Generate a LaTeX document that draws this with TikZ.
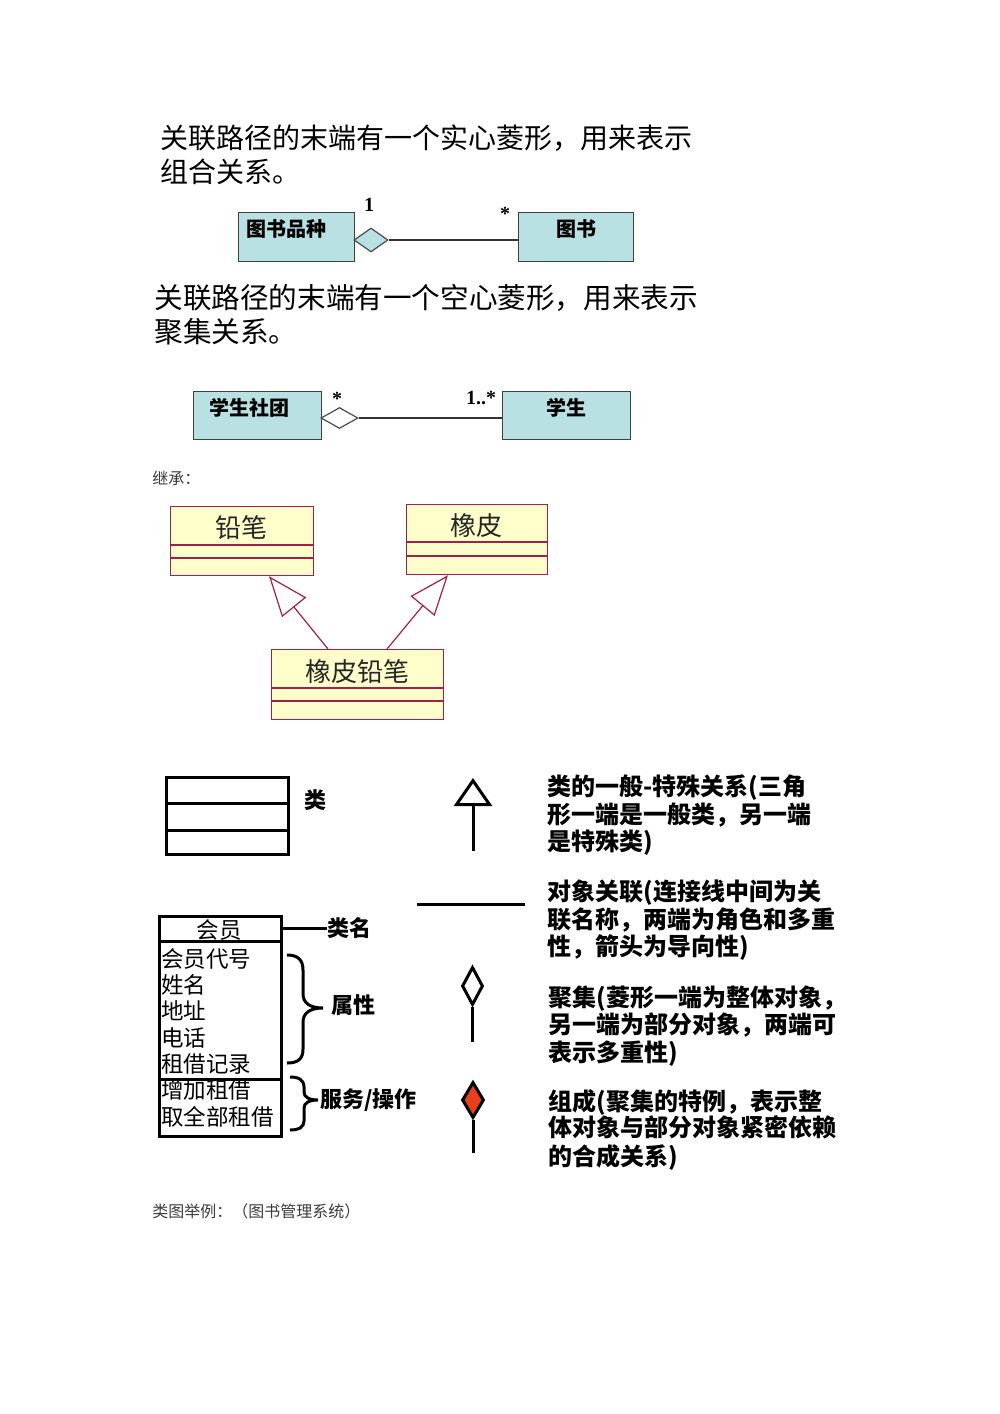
\documentclass[tikz,border=0pt]{standalone}
\usepackage{fontspec}
\setmainfont{Liberation Serif}
\newfontfamily\cjk{Noto Sans CJK SC}
\usetikzlibrary{shapes.geometric,arrows.meta,calc}
\definecolor{cyanfill}{RGB}{185,224,226}
\definecolor{umlred}{RGB}{165,30,75}
\definecolor{umlfill}{RGB}{255,255,204}
\definecolor{compred}{RGB}{232,64,26}
\definecolor{greytxt}{RGB}{60,60,60}
\begin{document}
\begin{tikzpicture}[x=0.5pt,y=-0.5pt,
  txt/.style={inner sep=0pt,anchor=west,text height=0.95em,text depth=0.1em},
  head/.style={txt,font=\cjk\fontsize{14}{17}\selectfont},
  small/.style={txt,font=\cjk\fontsize{8}{10}\selectfont,text=greytxt},
  cbox/.style={draw=black!75,fill=cyanfill,line width=0.6pt,inner sep=0pt,anchor=north west,minimum height=24.5pt},
  ctext/.style={inner sep=0pt,font=\cjk\bfseries\fontsize{10}{12}\selectfont},
  mult/.style={inner sep=0pt,font=\bfseries\fontsize{10}{12}\selectfont},
  assoc/.style={draw=black!80,line width=0.6pt},
  ubox/.style={draw=umlred,fill=umlfill,line width=0.6pt,inner sep=0pt,anchor=north west},
  uline/.style={draw=umlred,line width=0.6pt},
  utext/.style={inner sep=0pt,font=\cjk\fontsize{13}{15}\selectfont,text=black!85},
  inh/.style={draw=umlred,line width=0.6pt,-{Triangle[open,length=20pt,width=15.5pt,fill=white]}},
  leg/.style={line width=1.5pt},
  legbox/.style={draw,line width=1.5pt,inner sep=0pt,anchor=north west},
  legtxt/.style={txt,font=\cjk\bfseries\fontsize{12}{14}\selectfont},
  lab/.style={txt,font=\cjk\bfseries\fontsize{11}{13}\selectfont},
  mtxt/.style={txt,font=\cjk\fontsize{11.25}{13}\selectfont},
]
\useasboundingbox[fill=white] (0,0) rectangle (1000,1414);

% --- composition heading
\node[head] (h1a) at (160,140) {关联路径的末端有一个实心菱形，用来表示};
\node[head] (h1b) at (160,174) {组合关系。};

\node[cbox,minimum width=58pt] (tspz) at (238,212) {};
\node[ctext] (tspzt) at (286,229) {图书品种};
\node[cbox,minimum width=57.5pt] (tushu) at (518,212) {};
\node[ctext] (tushut) at (576,229) {图书};
\node[diamond,draw=black!70,fill=cyanfill,line width=0.6pt,inner sep=0pt,minimum width=17pt,minimum height=12pt] (d1) at (371,240) {};
\draw[assoc] (d1.east) -- (tushu.west |- d1.east);
\node[mult] (m1) at (369,205) {1};
\node[mult] (m2) at (505,214) {*};

% --- aggregation heading
\node[head,font=\cjk\fontsize{14.3}{17}\selectfont] (h2a) at (154,300) {关联路径的末端有一个空心菱形，用来表示};
\node[head,font=\cjk\fontsize{14.3}{17}\selectfont] (h2b) at (154,334) {聚集关系。};

\node[cbox,minimum width=64pt,minimum height=24pt] (xsst) at (193,391) {};
\node[ctext] (xsstt) at (249,408) {学生社团};
\node[cbox,minimum width=64pt,minimum height=24pt] (xs) at (502,391) {};
\node[ctext] (xst) at (566,408) {学生};
\node[diamond,draw=black!70,fill=white,line width=0.6pt,inner sep=0pt,minimum width=18.5pt,minimum height=10.5pt] (d2) at (339.5,418) {};
\draw[assoc] (d2.east) -- (xs.west |- d2.east);
\node[mult] (m3) at (337,399) {*};
\node[mult] (m4) at (481,398) {1..*};

% --- inheritance
\node[small] (jc) at (152,476) {继承：};

\node[ubox,minimum width=71.5pt,minimum height=34.5pt] (pencil) at (170,506) {};
\draw[uline] (170,545) -- (313,545) (170,558) -- (313,558);
\node[utext] (pencilt) at (241,528) {铅笔};
\node[ubox,minimum width=70.5pt,minimum height=35pt] (eraser) at (406,504) {};
\draw[uline] (406,542) -- (547,542) (406,556) -- (547,556);
\node[utext] (erasert) at (476,526) {橡皮};
\node[ubox,minimum width=86pt,minimum height=35pt] (combo) at (271,649) {};
\draw[uline] (271,688) -- (443,688) (271,701) -- (443,701);
\node[utext] (combot) at (357,672) {橡皮铅笔};

\draw[inh] ($(combo.north west)+(57,0)$) -- ($(pencil.south west)+(99,0)$);
\draw[inh] ($(combo.north west)+(116,0)$) -- ($(eraser.south west)+(42,0)$);

% --- legend: class
\node[legbox,minimum width=61pt,minimum height=38.5pt] (legcls) at (165,776) {};
\draw[leg] (165,803) -- (287,803) (165,830) -- (287,830);
\node[lab] (lei) at (304,800) {类};

% generalization
\coordinate (g0) at (473,851);
\coordinate (g1) at (473,778);
\draw[leg,-{Triangle[open,length=14pt,width=19pt]}] (g0) -- (g1);
\node[legtxt] (t1) at (547,787) {类的一般-特殊关系(三角};
\node[legtxt] (t2) at (547,815) {形一端是一般类，另一端};
\node[legtxt] (t3) at (547,842) {是特殊类)};

% association
\coordinate (a0) at (417,904);
\coordinate (a1) at (525,904);
\draw[leg] (a0) -- (a1);
\node[legtxt] (t4) at (547,892) {对象关联(连接线中间为关};
\node[legtxt] (t5) at (547,920) {联名称，两端为角色和多重};
\node[legtxt] (t6) at (547,947) {性，箭头为导向性)};

% aggregation
\node[diamond,draw,fill=white,line width=1.5pt,inner sep=0pt,minimum width=10.5pt,minimum height=19pt] (agg) at (472.5,986) {};
\coordinate (agge) at (472.5,1042);
\draw[leg] (agg.south) -- (agge);
\node[legtxt] (t7) at (548,998) {聚集(菱形一端为整体对象，};
\node[legtxt] (t8) at (548,1025) {另一端为部分对象，两端可};
\node[legtxt] (t9) at (548,1053) {表示多重性)};

% composition
\node[diamond,draw,fill=compred,line width=1.5pt,inner sep=0pt,minimum width=11pt,minimum height=18pt] (comp) at (473,1100) {};
\coordinate (compe) at (473,1153);
\draw[leg] (comp.south) -- (compe);
\node[legtxt] (t10) at (548,1102) {组成(聚集的特例，表示整};
\node[legtxt] (t11) at (548,1128) {体对象与部分对象紧密依赖};
\node[legtxt] (t12) at (548,1157) {的合成关系)};

% member class
\node[legbox,minimum width=61pt,minimum height=110pt] (member) at (158,915) {};
\draw[leg] (158,941) -- (280,941) (158,1079) -- (280,1079);
\node[mtxt,anchor=center] (mname) at (219,930) {会员};
\node[mtxt] (ma1) at (161,959) {会员代号};
\node[mtxt] (ma2) at (161,985) {姓名};
\node[mtxt] (ma3) at (161,1011) {地址};
\node[mtxt] (ma4) at (161,1038) {电话};
\node[mtxt] (ma5) at (161,1064) {租借记录};
\node[mtxt] (mo1) at (161,1090) {增加租借};
\node[mtxt] (mo2) at (161,1117) {取全部租借};

\node[lab] (lm) at (327,928) {类名};
\draw[leg] ($(member.north east)+(0,13)$) -- (lm.west);
\node[lab] (lsx) at (331,1005) {属性};
\node[lab] (lfw) at (320,1099) {服务/操作};

\draw[leg] (287,955) .. controls (298,955) and (303,960) .. (303,970)
  -- (303,994) .. controls (303,1003) and (310,1008) .. (323,1008)
  .. controls (310,1008) and (303,1013) .. (303,1022)
  -- (303,1049) .. controls (303,1059) and (298,1063) .. (287,1063);
\draw[leg] (290,1077) .. controls (299,1077) and (304,1080) .. (304,1087)
  -- (304,1092) .. controls (304,1097) and (309,1100) .. (318,1100)
  .. controls (309,1100) and (304,1103) .. (304,1108)
  -- (304,1121) .. controls (304,1127) and (299,1130) .. (290,1130);

% caption
\node[small] (cap) at (152,1209) {类图举例：（图书管理系统）};
\end{tikzpicture}
\end{document}
